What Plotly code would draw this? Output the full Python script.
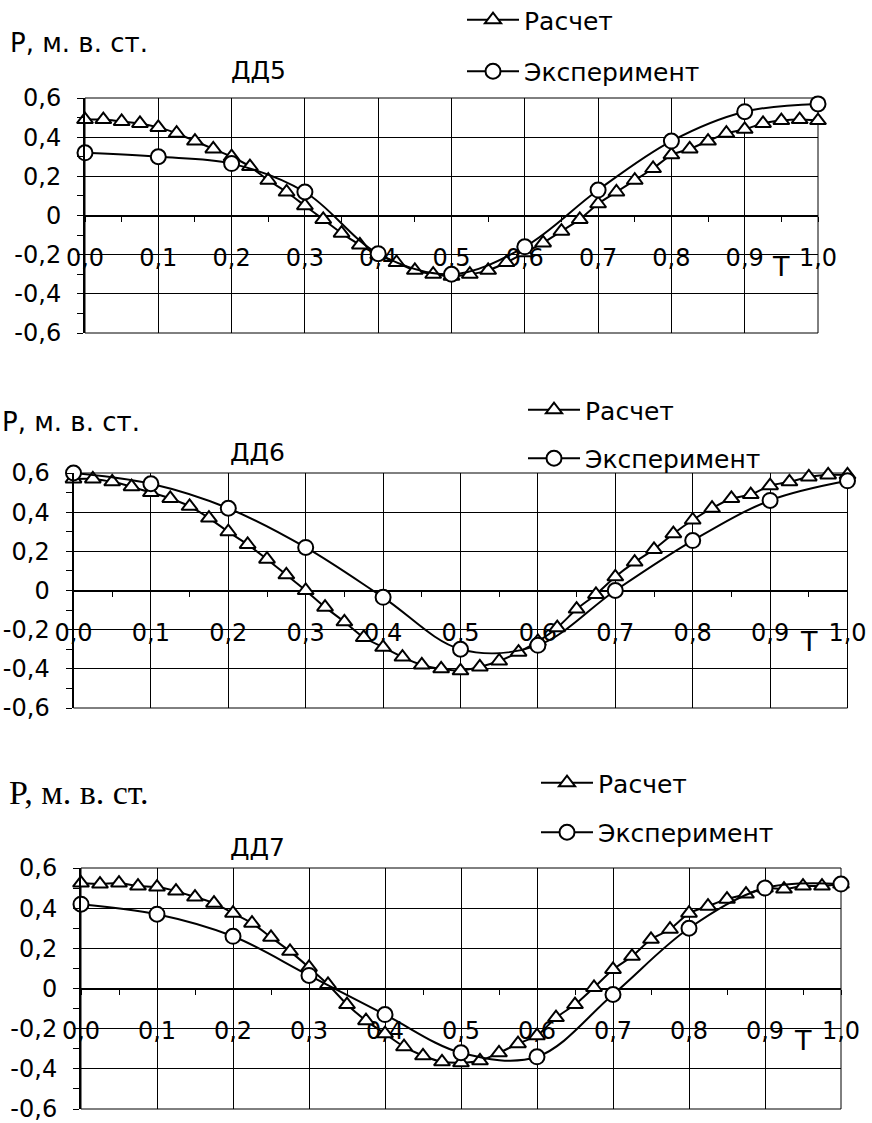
import plotly.graph_objects as go

# ---- data -------------------------------------------------------------
T_CALC = [0.0, 0.025, 0.05, 0.075, 0.1, 0.125, 0.15, 0.175, 0.2, 0.225,
          0.25, 0.275, 0.3, 0.325, 0.35, 0.375, 0.4, 0.425, 0.45, 0.475,
          0.5, 0.525, 0.55, 0.575, 0.6, 0.625, 0.65, 0.675, 0.7, 0.725,
          0.75, 0.775, 0.8, 0.825, 0.85, 0.875, 0.9, 0.925, 0.95, 0.975, 1.0]
T_EXP = [0.0, 0.1, 0.2, 0.3, 0.4, 0.5, 0.6, 0.7, 0.8, 0.9, 1.0]

dd5_calc = [0.49, 0.49, 0.48, 0.47, 0.45, 0.42, 0.38, 0.34, 0.30, 0.25,
            0.18, 0.12, 0.05, -0.02, -0.09, -0.15, -0.20, -0.24, -0.28, -0.30,
            -0.31, -0.30, -0.28, -0.24, -0.19, -0.14, -0.08, -0.02, 0.06, 0.12,
            0.18, 0.24, 0.31, 0.34, 0.38, 0.42, 0.44, 0.47, 0.485, 0.49, 0.485]
dd5_exp = [0.32, 0.30, 0.265, 0.12, -0.195, -0.30, -0.16, 0.13, 0.38, 0.53, 0.57]

dd6_calc = [0.57, 0.57, 0.555, 0.53, 0.50, 0.47, 0.43, 0.37, 0.30, 0.235,
            0.16, 0.08, 0.00, -0.085, -0.16, -0.24, -0.29, -0.34, -0.38, -0.40,
            -0.41, -0.39, -0.36, -0.315, -0.26, -0.19, -0.095, -0.02, 0.07, 0.145,
            0.21, 0.29, 0.36, 0.42, 0.47, 0.49, 0.535, 0.555, 0.58, 0.59, 0.59]
dd6_exp = [0.60, 0.545, 0.42, 0.22, -0.035, -0.30, -0.28, 0.00, 0.255, 0.46, 0.56]

dd7_calc = [0.525, 0.52, 0.525, 0.51, 0.505, 0.485, 0.455, 0.425, 0.375, 0.325,
            0.255, 0.185, 0.105, 0.02, -0.08, -0.16, -0.225, -0.29, -0.335, -0.365,
            -0.37, -0.36, -0.32, -0.275, -0.235, -0.145, -0.08, 0.005, 0.095, 0.16,
            0.245, 0.295, 0.375, 0.41, 0.445, 0.47, 0.50, 0.495, 0.51, 0.51, 0.52]
dd7_exp = [0.42, 0.37, 0.26, 0.065, -0.13, -0.32, -0.34, -0.03, 0.30, 0.50, 0.52]

panel_titles = ["ДД5", "ДД6", "ДД7"]
series_names = ["Расчет", "Эксперимент"]
y_label = "P, м. в. ст."

T_TICKS = [0.0, 0.1, 0.2, 0.3, 0.4, 0.5, 0.6, 0.7, 0.8, 0.9, 1.0]
T_LABELS = ["0,0", "0,1", "0,2", "0,3", "0,4", "0,5", "0,6", "0,7", "0,8", "0,9", "1,0"]
T_MINOR = [0.05, 0.15, 0.25, 0.35, 0.45, 0.55, 0.65, 0.75, 0.85, 0.95]
P_TICKS = [-0.6, -0.4, -0.2, 0.0, 0.2, 0.4, 0.6]
P_LABELS = ["-0,6", "-0,4", "-0,2", "0", "0,2", "0,4", "0,6"]
P_MINOR = [-0.5, -0.3, -0.1, 0.1, 0.3, 0.5]

calc_sets = [dd5_calc, dd6_calc, dd7_calc]
exp_sets = [dd5_exp, dd6_exp, dd7_exp]

# ---- layout geometry (pixels) -----------------------------------------
W, H = 872, 1123
# plot areas: left, right, top, bottom
boxes = [(85, 818, 98, 333), (73.5, 847.5, 473, 708), (81, 841, 868, 1109)]
ylab_pos = [(8, 43), (0, 422), (7, 792)]          # left edge, middle
title_pos = [(258, 70), (257, 452), (257, 847)]   # centre
legend_pos = [(486, 20), (547, 410), (560, 783)]  # first symbol centre
legend_gap = [16, 13, 14]
ylab_fonts = [dict(family="DejaVu Sans", size=26, color="black"),
              dict(family="DejaVu Sans", size=26, color="black"),
              dict(family="Liberation Serif", size=34, color="black")]

SANS = "DejaVu Sans"

fig = go.Figure()
layout = dict(
    width=W, height=H, margin=dict(l=0, r=0, t=0, b=0, autoexpand=False),
    paper_bgcolor="white", plot_bgcolor="white",
    font=dict(family=SANS, color="black"),
    annotations=[], shapes=[],
)

for i in range(3):
    n = "" if i == 0 else str(i + 1)
    xa, ya = "x" + n, "y" + n
    leg = "legend" + n
    l, r, t, b = boxes[i]
    y0, y1 = 1 - b / H, 1 - t / H

    fig.add_trace(go.Scatter(
        x=T_CALC, y=calc_sets[i], xaxis=xa, yaxis=ya, name=series_names[0],
        mode="lines+markers", legend=leg, legendgroup="calc" + n,
        line=dict(color="black", width=2, shape="spline", smoothing=0.6),
        marker=dict(symbol="triangle-up", size=14, color="white",
                    line=dict(color="black", width=2)),
        cliponaxis=False))
    fig.add_trace(go.Scatter(
        x=T_EXP, y=exp_sets[i], xaxis=xa, yaxis=ya, name=series_names[1],
        mode="lines+markers", legend=leg, legendgroup="exp" + n,
        line=dict(color="black", width=2, shape="spline", smoothing=1.0),
        marker=dict(symbol="circle", size=15, color="white",
                    line=dict(color="black", width=2)),
        cliponaxis=False))

    # T axis crosses the pressure axis at zero
    layout["xaxis" + n] = dict(
        domain=[l / W, r / W], range=[0, 1], anchor="free", automargin=False,
        position=(y0 + y1) / 2, layer="below traces",
        tickvals=T_TICKS, ticktext=T_LABELS, ticklabeloverflow="allow",
        ticks="outside", ticklen=5, tickcolor="black", tickwidth=1,
        minor=dict(tickvals=T_MINOR, ticks="outside", ticklen=5,
                   tickcolor="black", showgrid=False),
        ticklabelstandoff=16,
        tickfont=dict(family=SANS, size=24, color="black"),
        showgrid=True, gridcolor="black", gridwidth=1,
        showline=False, zeroline=False, fixedrange=True)
    layout["yaxis" + n] = dict(
        domain=[y0, y1], range=[-0.6, 0.6], anchor=xa, automargin=False,
        tickvals=P_TICKS, ticktext=P_LABELS, ticklabeloverflow="allow",
        ticks="outside", ticklen=6, tickcolor="black", tickwidth=1,
        minor=dict(tickvals=P_MINOR, ticks="outside", ticklen=6,
                   tickcolor="black", showgrid=False),
        ticklabelstandoff=11,
        tickfont=dict(family=SANS, size=24, color="black"),
        showgrid=True, gridcolor="black", gridwidth=1,
        zeroline=True, zerolinecolor="black", zerolinewidth=2,
        showline=True, linecolor="black", linewidth=2, fixedrange=True)

    # frame around the plotting area
    layout["shapes"].append(dict(
        type="rect", xref=xa + " domain", yref=ya + " domain",
        x0=0, x1=1, y0=0, y1=1, layer="below",
        line=dict(color="black", width=1)))

    mx, my = legend_pos[i]
    layout[leg] = dict(
        x=(mx - 24) / W, xanchor="left", y=1 - (my - 23) / H, yanchor="top",
        bgcolor="rgba(0,0,0,0)", borderwidth=0, itemwidth=52,
        traceorder="grouped", tracegroupgap=legend_gap[i],
        font=dict(family=SANS, size=25, color="black"))

    px, py = ylab_pos[i]
    layout["annotations"].append(dict(
        text=y_label, xref="paper", yref="paper", x=px / W, y=1 - py / H,
        xanchor="left", yanchor="middle", showarrow=False, font=ylab_fonts[i]))
    tx, ty = title_pos[i]
    layout["annotations"].append(dict(
        text=panel_titles[i], xref="paper", yref="paper", x=tx / W, y=1 - ty / H,
        xanchor="center", yanchor="middle", showarrow=False,
        font=dict(family=SANS, size=25, color="black")))
    layout["annotations"].append(dict(
        text="T", xref=xa, yref=ya, x=0.95, y=-0.26,
        xanchor="center", yanchor="middle", showarrow=False,
        font=dict(family=SANS, size=27, color="black")))

fig.update_layout(**layout)
fig.write_html("out.html")
